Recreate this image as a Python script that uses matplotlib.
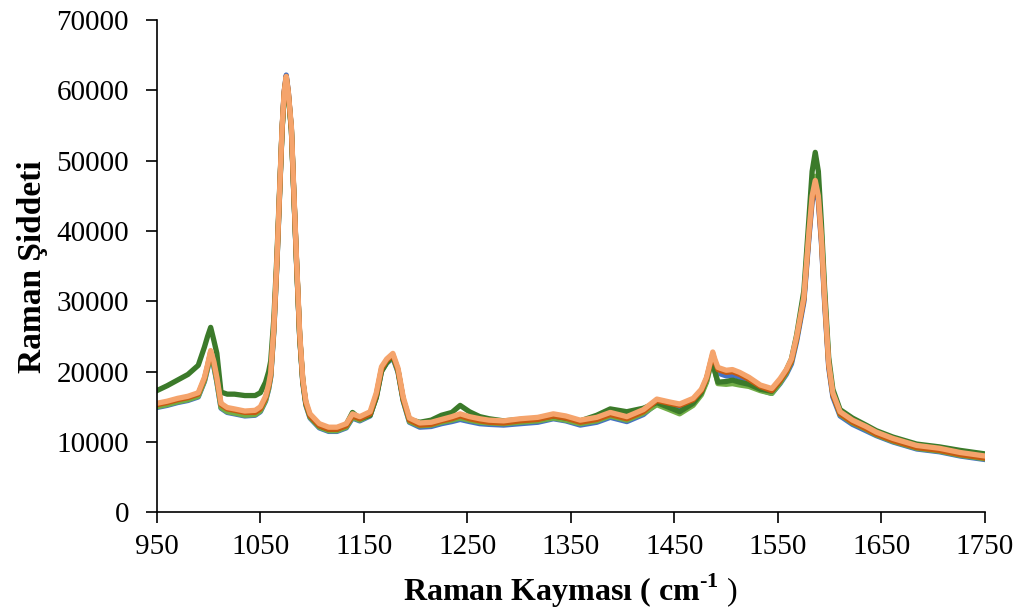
import matplotlib
matplotlib.use("Agg")
import matplotlib.pyplot as plt

plt.rcParams['font.family'] = ['Liberation Serif', 'DejaVu Serif']
plt.rcParams['mathtext.fontset'] = 'custom'
plt.rcParams['mathtext.rm'] = 'Liberation Serif'
plt.rcParams['mathtext.bf'] = 'Liberation Serif:bold'

# Raman shift (cm-1)
shift = [950, 960, 970, 980, 990, 996, 999, 1002, 1005, 1008,
         1012, 1018, 1025, 1035, 1045, 1050, 1055, 1058, 1060, 1063,
         1066, 1068, 1071, 1073, 1075, 1077, 1080, 1082, 1085, 1088,
         1091, 1094, 1098, 1107, 1116, 1124, 1133, 1139, 1146, 1156,
         1162, 1167, 1172, 1178, 1183, 1188, 1194, 1204, 1215, 1225,
         1235, 1243, 1252, 1262, 1271, 1285, 1301, 1318, 1333, 1345,
         1359, 1375, 1388, 1404, 1420, 1433, 1445, 1455, 1468, 1476,
         1481, 1484, 1487, 1489, 1492, 1500, 1506, 1513, 1522, 1533,
         1544, 1552, 1558, 1563, 1568, 1575, 1580, 1583, 1586, 1589,
         1592, 1595, 1599, 1603, 1610, 1622, 1635, 1645, 1661, 1684,
         1706, 1726, 1750]

blue = [14900, 15200, 15600, 15900, 16400, 18600, 20400, 22300, 20800, 18500,
        14800, 14200, 14000, 13700, 13800, 14300, 15800, 17500, 19200, 25700,
        35300, 43000, 54500, 59800, 62200, 59800, 54300, 46500, 35300, 24900,
        18400, 15200, 13400, 12000, 11500, 11500, 12000, 13400, 13000, 13700,
        16400, 20100, 21200, 22000, 19900, 15800, 12800, 12100, 12200, 12600,
        12900, 13200, 12900, 12600, 12500, 12400, 12600, 12800, 13300, 13000,
        12400, 12800, 13500, 12900, 13900, 15500, 15000, 14700, 15600, 17000,
        18600, 20500, 22300, 21200, 19800, 19400, 19500, 19200, 18500, 17400,
        16900, 18300, 19600, 21100, 24300, 29900, 39200, 44200, 46500, 44200,
        38300, 29900, 20600, 16400, 13700, 12500, 11600, 10900, 10000, 9000,
        8600, 8000, 7500]

light_green = [15000, 15300, 15700, 16000, 16500, 18700, 20500, 22400, 20900, 18600,
               14900, 14300, 14100, 13800, 13900, 14400, 15900, 17600, 19300, 25800,
               35400, 43000, 54300, 59300, 61800, 59300, 54300, 46500, 35400, 25000,
               18500, 15300, 13500, 12100, 11600, 11600, 12100, 13500, 13100, 13800,
               16500, 20200, 21300, 22100, 20000, 15900, 12900, 12300, 12400, 12800,
               13100, 13400, 13100, 12800, 12700, 12600, 12800, 13000, 13400, 13100,
               12600, 13000, 13700, 13100, 14100, 15300, 14600, 14000, 15200, 16700,
               18500, 20300, 21800, 20200, 18300, 18200, 18300, 18100, 17900, 17300,
               16900, 18400, 19800, 21400, 24700, 30500, 40200, 45500, 47800, 45500,
               39500, 31000, 21300, 16800, 13900, 12700, 11800, 11000, 10100, 9100,
               8700, 8100, 7600]

dark_green = [17300, 18000, 18800, 19600, 20900, 23500, 25000, 26300, 24500, 22600,
              17100, 16800, 16800, 16600, 16600, 17000, 18500, 20000, 21500, 27500,
              36500, 43800, 54500, 59500, 61800, 59500, 54500, 46500, 35500, 25000,
              18700, 15500, 13700, 12300, 11800, 11800, 12500, 14200, 13300, 13800,
              16300, 20000, 21300, 22200, 20200, 16000, 13200, 12800, 13100, 13800,
              14200, 15200, 14300, 13600, 13300, 13000, 13200, 13300, 13700, 13400,
              13000, 13800, 14700, 14300, 14800, 15600, 14900, 14300, 15500, 17000,
              19000, 20500, 21500, 20000, 18500, 18600, 18800, 18500, 18200, 17500,
              17200, 18700, 20200, 21800, 25200, 31500, 42000, 48500, 51200, 48500,
              41000, 32000, 22000, 17500, 14600, 13400, 12400, 11600, 10700, 9700,
              9300, 8800, 8300]

dark_orange = [15300, 15600, 16000, 16300, 16800, 19000, 20800, 22800, 21300, 19000,
               15300, 14700, 14500, 14200, 14200, 14700, 16200, 17900, 19500, 26000,
               35600, 43200, 54500, 59800, 62000, 59800, 54500, 46800, 35600, 25200,
               18700, 15500, 13700, 12300, 11800, 11800, 12300, 13700, 13300, 14000,
               16700, 20400, 21600, 22400, 20200, 16100, 13100, 12400, 12500, 13000,
               13300, 13700, 13300, 13000, 12800, 12700, 13000, 13200, 13700, 13400,
               12800, 13200, 13900, 13300, 14300, 15900, 15500, 15200, 16000, 17300,
               19000, 20800, 22500, 21500, 20300, 19900, 20000, 19600, 18900, 17900,
               17300, 18700, 20000, 21500, 24700, 30300, 39600, 44600, 46800, 44600,
               38600, 30300, 20900, 16700, 14000, 12800, 11900, 11100, 10200, 9200,
               8800, 8200, 7700]

orange = [15500, 15800, 16200, 16500, 17000, 19200, 21000, 23000, 21500, 19200,
          15500, 14900, 14700, 14400, 14500, 15000, 16500, 18200, 19800, 26300,
          35900, 43500, 54800, 59800, 62000, 59800, 54800, 47000, 35900, 25500,
          19000, 15800, 14000, 12600, 12100, 12100, 12600, 14000, 13600, 14300,
          17000, 20700, 21800, 22600, 20500, 16400, 13400, 12700, 12800, 13200,
          13600, 14000, 13600, 13300, 13100, 13000, 13300, 13500, 14000, 13700,
          13100, 13500, 14200, 13600, 14600, 16100, 15700, 15400, 16200, 17500,
          19200, 21000, 22800, 21800, 20600, 20200, 20300, 19900, 19200, 18100,
          17600, 19000, 20300, 21800, 25000, 30600, 40000, 45000, 47200, 45000,
          39000, 30600, 21200, 17000, 14300, 13100, 12200, 11400, 10500, 9500,
          9100, 8500, 8000]

x_ticks = [950, 1050, 1150, 1250, 1350, 1450, 1550, 1650, 1750]
y_ticks = [0, 10000, 20000, 30000, 40000, 50000, 60000, 70000]

fig = plt.figure(figsize=(10.25, 6.12), dpi=100)
ax = fig.add_axes([0.153, 0.163, 0.808, 0.804])

series = [(blue, '#4472C4'), (light_green, '#70AD47'), (dark_green, '#3B7A2A'),
          (dark_orange, '#C55A11'), (orange, '#F5A46C')]
for vals, col in series:
    ax.plot(shift, vals, color=col, lw=3.8, solid_joinstyle='round')

ax.set_xlim(950, 1750)
ax.set_ylim(0, 70000)
ax.set_xticks(x_ticks)
ax.set_yticks(y_ticks)
ax.tick_params(axis='both', labelsize=21, length=8, width=1.2, direction='out')
ax.tick_params(axis='y', pad=12)
ax.tick_params(axis='x', pad=8)
for side in ['top', 'right']:
    ax.spines[side].set_visible(False)
for side in ['left', 'bottom']:
    ax.spines[side].set_linewidth(1.2)

ax.set_ylabel('Raman Şiddeti', fontsize=24, fontweight='bold', labelpad=6)
ax.set_xlabel('Raman Kayması ( cm$^{\\mathbf{\u20101}}$ $\\mathrm{)}$', fontsize=23,
              fontweight='bold', labelpad=8)

fig.savefig('out.png', dpi=100)
